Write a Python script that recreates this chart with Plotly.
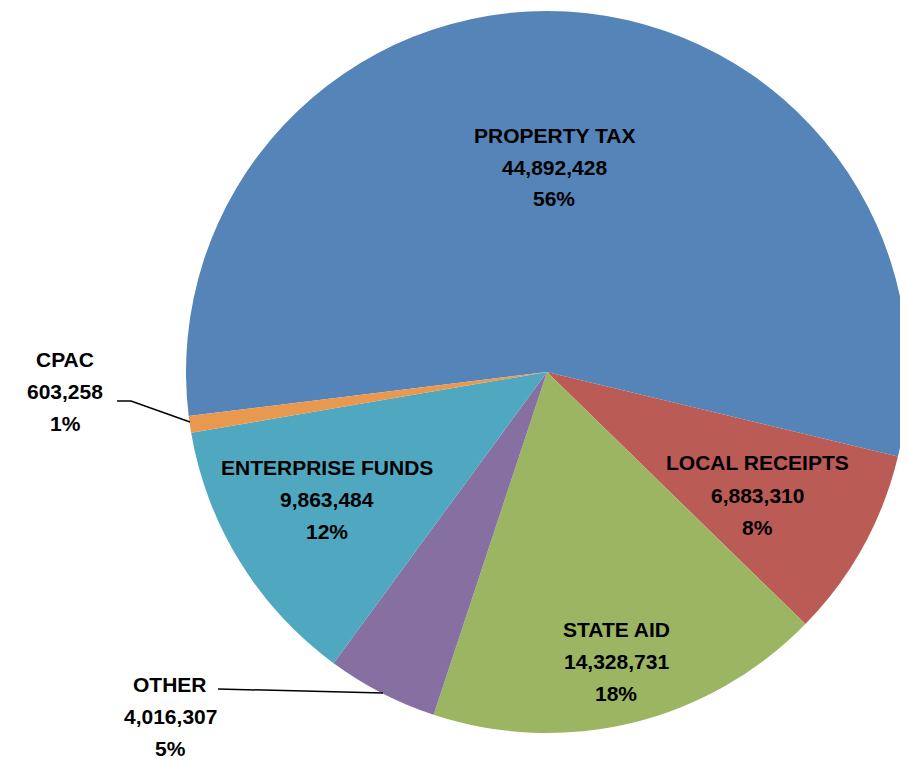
"""Revenue sources pie chart"""
import plotly.graph_objects as go

# Data
categories = ['PROPERTY TAX', 'LOCAL RECEIPTS', 'STATE AID', 'OTHER', 'ENTERPRISE FUNDS', 'CPAC']
amounts = [44892428, 6883310, 14328731, 4016307, 9863484, 603258]
pct_labels = [56, 8, 18, 5, 12, 1]
colors = ['#5584B8', '#BB5B55', '#9CB563', '#8570A1', '#4FA8C0', '#E8984F']

# the page body adds an 8px margin, so the figure is a bit smaller than the window
OFF = 8
W, H = 908 - OFF, 760 - OFF

# label centers in screen pixels (x, first line y)
label_pos = {
    'PROPERTY TAX': (554, 135),
    'LOCAL RECEIPTS': (757, 463),
    'STATE AID': (616, 629),
    'OTHER': (170, 684),
    'ENTERPRISE FUNDS': (327, 467),
    'CPAC': (65, 359),
}
LINE_GAP = 32


def px(x):
    return (x - OFF) / W


def py(y):
    return 1 - (y - OFF) / H


fig = go.Figure()
fig.add_trace(go.Pie(
    labels=categories,
    values=amounts,
    marker=dict(colors=colors, line=dict(width=0)),
    sort=False,
    direction='clockwise',
    rotation=263,
    textinfo='none',
    hoverinfo='label+value+percent',
    showlegend=False,
    domain=dict(x=[px(186), 1], y=[py(734), py(10)]),
))

# labels, one annotation per line to get Excel-like line spacing
for name, amt, pct in zip(categories, amounts, pct_labels):
    x, y = label_pos[name]
    for i, line in enumerate([name, f'{amt:,}', f'{pct}%']):
        fig.add_annotation(
            x=px(x), y=py(y + i * LINE_GAP), xref='paper', yref='paper',
            text=line, showarrow=False, xanchor='center', yanchor='middle',
            font=dict(family='Liberation Sans', size=21, color='#000000', weight='bold'),
        )

# leader lines for the small slices
leader = dict(color='#000000', width=1.5)
fig.add_shape(type='path', xref='paper', yref='paper',
              path=f'M {px(117)} {py(401)} L {px(131)} {py(401)} L {px(190)} {py(422)}',
              line=leader)
fig.add_shape(type='line', xref='paper', yref='paper',
              x0=px(218), y0=py(689), x1=px(383), y1=py(693), line=leader)

fig.update_layout(
    width=W, height=H,
    margin=dict(l=0, r=0, t=0, b=0),
    paper_bgcolor='white',
    plot_bgcolor='white',
)

fig.write_html('out.html')
